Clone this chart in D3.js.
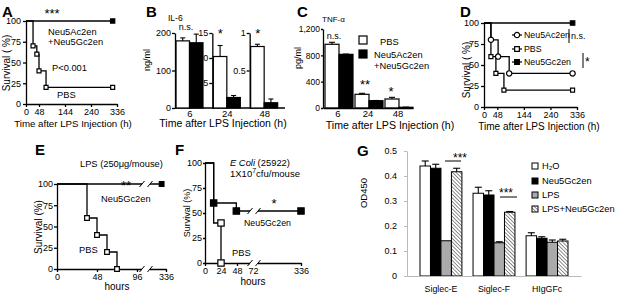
<!DOCTYPE html>
<html>
<head>
<meta charset="utf-8">
<script src="https://cdn.jsdelivr.net/npm/d3@7"></script>
<style>
body { margin: 0; background: #fff; }
svg { display: block; }
</style>
</head>
<body>
<svg id="fig" width="617" height="296"></svg>
<script>
// ---------- data ----------
const survYTicks = [0, 25, 50, 75, 100];
const survXTicks = [0, 48, 144, 240, 336];

// A: [hour, survival %, marker]
const pbsA = [[0, 100, 0], [26, 70, 1], [40, 60, 1], [48, 40, 1], [74, 20, 1], [320, 20, 1]];
const comboA = [[0, 100, 0], [320, 100, 1]];

// B: IL-6 (ng/ml), three sub axes
const cytoTimes = ["6", "24", "48"];
const il6Pbs = [179, 10.3, 0.82];
const il6PbsErr = [8, 2.2, 0.03];
const il6Treat = [174, 2.1, 0.07];
const il6TreatErr = [23, 0.4, 0.05];
const il6Max = [200, 15, 1];
const il6Ticks = [[0, 100, 200], [5, 10, 15], [0.5, 1]];
const il6Sig = ["n.s.", "*", "*"];

// C: TNF-a (pg/ml)
const tnfPbs = [968, 208, 137];
const tnfPbsErr = [30, 15, 25];
const tnfTreat = [815, 111, 11];
const tnfTreatErr = [4, 3, 2];
const tnfTicks = [0, 400, 800, 1200];
const tnfSig = ["n.s.", "**", "*"];

// D
const ac2enD = [[0, 100, 0], [25, 80, 1], [51, 60, 1], [91, 40, 1], [320, 40, 1]];
const pbsD = [[0, 100, 0], [25, 60, 1], [43, 40, 1], [72, 20, 1], [320, 20, 1]];
const gc2enD = [[0, 100, 0], [320, 100, 1]];

// E
const ticksE = [0, 48, 96, 336];
const pbsE = [[0, 100, 0], [36, 60, 1], [48, 40, 1], [60, 20, 1], [72, 0, 1]];
const gc2enE = [[0, 100, 0], [300, 100, 1]];

// F
const ticksF = [0, 24, 48, 72, 336];
const pbsF = [[0, 100, 0], [13, 40, 0], [24, 40, 1], [24, 0, 1]];
const gc2enF = [[0, 100, 0], [13, 60, 1], [47, 52, 1], [336, 52, 1]];

// G
const gGroups = ["Siglec-E", "Siglec-F", "HIgGFc"];
const gSeries = ["H\u2082O", "Neu5Gc2en", "LPS", "LPS+Neu5Gc2en"];
const gMeans = [[0.44, 0.431, 0.141, 0.417], [0.331, 0.324, 0.133, 0.255], [0.161, 0.151, 0.135, 0.14]];
const gErrs = [[0.02, 0.016, 0, 0.014], [0.024, 0.017, 0.004, 0.003], [0.012, 0.006, 0.009, 0.007]];
const gTicks = [0, 0.1, 0.2, 0.3, 0.4, 0.5];

// ---------- helpers ----------
const FONT = 'Arial, "Liberation Sans", sans-serif';
const svg = d3.select("#fig");
svg.append("rect").attr("width", 617).attr("height", 296).attr("fill", "#fff");

const defs = svg.append("defs");
defs.append("pattern").attr("id", "hatch").attr("patternUnits", "userSpaceOnUse")
	.attr("width", 2.6).attr("height", 2.6).attr("patternTransform", "rotate(-45)")
	.call(p => {
		p.append("rect").attr("width", 2.6).attr("height", 2.6).attr("fill", "#fff");
		p.append("line").attr("x1", 0).attr("y1", 0).attr("x2", 0).attr("y2", 2.6)
			.attr("stroke", "#333").attr("stroke-width", 1.1);
	});

function label(x, y, s, o = {}) {
	const t = svg.append("text").attr("x", x).attr("y", y)
		.attr("font-family", FONT).attr("font-size", o.fs || 10)
		.attr("text-anchor", o.anchor || "start").attr("fill", "#000")
		.text(s);
	if (o.bold) t.attr("font-weight", "bold");
	if (o.italic) t.attr("font-style", "italic");
	if (o.rot) t.attr("transform", `rotate(-90,${x},${y})`).attr("text-anchor", "middle");
	return t;
}

function drawAxis(gen, tx, ty, o = {}) {
	const g = svg.append("g").attr("transform", `translate(${tx},${ty})`).call(gen);
	g.attr("font-family", FONT).attr("font-size", o.fs || 9);
	g.select(".domain").attr("stroke", o.color || "#000").attr("stroke-width", o.sw || 1.3);
	g.selectAll(".tick line").attr("stroke", o.color || "#000").attr("stroke-width", o.sw || 1.3);
	g.selectAll(".tick text").attr("fill", "#000");
	return g;
}

function survCurve(x, y, pts, shape, fill, size) {
	svg.append("path")
		.attr("d", d3.line().x(d => x(d[0])).y(d => y(d[1])).curve(d3.curveStepAfter)(pts))
		.attr("fill", "none").attr("stroke", "#000").attr("stroke-width", 1.3);
	const sym = d3.symbol().type(shape === "circle" ? d3.symbolCircle : d3.symbolSquare).size(size);
	svg.append("g").selectAll("path").data(pts.filter(d => d[2])).join("path")
		.attr("transform", d => `translate(${x(d[0])},${y(d[1])})`)
		.attr("d", sym).attr("fill", fill).attr("stroke", "#000").attr("stroke-width", 1.2);
}

function axisBreak(x1, x2, y) {
	svg.append("rect").attr("x", x1).attr("y", y - 4).attr("width", x2 - x1).attr("height", 8).attr("fill", "#fff");
	[x1, x2].forEach(x => {
		svg.append("line").attr("x1", x - 2.5).attr("y1", y + 3).attr("x2", x + 2.5).attr("y2", y - 3)
			.attr("stroke", "#000").attr("stroke-width", 1);
	});
}

function errBar(x, yTop, yEnd, w) {
	svg.append("line").attr("x1", x).attr("x2", x).attr("y1", yTop).attr("y2", yEnd)
		.attr("stroke", "#000").attr("stroke-width", 1.1);
	svg.append("line").attr("x1", x - w / 2).attr("x2", x + w / 2).attr("y1", yEnd).attr("y2", yEnd)
		.attr("stroke", "#000").attr("stroke-width", 1.1);
}

// ---------- panel letters ----------
[["A", 2, 17], ["B", 146, 17], ["C", 297, 17], ["D", 460, 17], ["E", 35, 155], ["F", 175, 155], ["G", 357, 156]]
	.forEach(d => label(d[1], d[2], d[0], { fs: 15, bold: true }));

// ---------- A ----------
const xA = d3.scaleLinear().domain([0, 336]).range([26, 117]);
const yA = d3.scaleLinear().domain([0, 100]).range([104, 21]);
drawAxis(d3.axisLeft(yA).tickValues(survYTicks).tickSize(3).tickSizeOuter(0).tickPadding(2), 26, 0);
drawAxis(d3.axisBottom(xA).tickValues(survXTicks).tickSize(3).tickSizeOuter(0).tickPadding(2), 0, 104);
survCurve(xA, yA, pbsA, "square", "#fff", 16);
survCurve(xA, yA, comboA, "square", "#000", 18);
label(10, 63, "Survival ( %)", { rot: true, fs: 10 });
label(73, 126.5, "Time after LPS Injection (h)", { anchor: "middle", fs: 9.7 });
label(52, 18, "***", { fs: 13, anchor: "middle" });
label(48, 35, "Neu5Ac2en", { fs: 9.3 });
label(48, 45, "+Neu5Gc2en", { fs: 9.3 });
label(52, 71, "P<0.001", { fs: 9.3 });
label(57, 98, "PBS", { fs: 9.3 });

// ---------- B ----------
const xB = d3.scaleBand().domain(cytoTimes).range([175, 287]);
const xBi = d3.scaleBand().domain(["pbs", "treat"]).range([1, 28]);
svg.append("line").attr("x1", 175).attr("x2", 285).attr("y1", 108).attr("y2", 108)
	.attr("stroke", "#000").attr("stroke-width", 1.3);
cytoTimes.forEach((t, i) => {
	const y = d3.scaleLinear().domain([0, il6Max[i]]).range([108, 33]);
	const x0 = xB(t);
	const bw = xBi.bandwidth();
	[[il6Pbs, il6PbsErr, "pbs", "#fff"], [il6Treat, il6TreatErr, "treat", "#000"]].forEach(([m, e, k, c]) => {
		const bx = x0 + xBi(k);
		svg.append("rect").attr("x", bx).attr("y", y(m[i])).attr("width", bw).attr("height", 108 - y(m[i]))
			.attr("fill", c).attr("stroke", "#000").attr("stroke-width", 1.2);
		errBar(bx + bw / 2, y(m[i]), y(m[i] + e[i]), 5);
	});
	drawAxis(d3.axisLeft(y).tickValues(il6Ticks[i]).tickSize(3).tickSizeOuter(0).tickPadding(1)
		.tickFormat(d3.format("~g")), x0, 0);
	label(x0 + 15, 116.5, t, { anchor: "middle", fs: 9.5 });
	if (i === 0) label(x0 + 11, 29.5, il6Sig[i], { fs: 9, anchor: "middle" });
	else label(x0 + 8, 38, il6Sig[i], { fs: 13, anchor: "middle" });
});
label(168, 21, "IL-6", { fs: 8.5 });
label(150, 60, "ng/ml", { rot: true, fs: 9 });
label(223, 127, "Time after LPS Injection (h)", { anchor: "middle", fs: 10.5 });

// ---------- C ----------
const xC = d3.scaleBand().domain(cytoTimes).range([323, 413]);
const xCi = d3.scaleBand().domain(["pbs", "treat"]).range([2, 30]);
const yC = d3.scaleLinear().domain([0, 1200]).range([108, 29]);
cytoTimes.forEach((t, i) => {
	const bw = xCi.bandwidth();
	[[tnfPbs, tnfPbsErr, "pbs", "#fff"], [tnfTreat, tnfTreatErr, "treat", "#000"]].forEach(([m, e, k, c]) => {
		const bx = xC(t) + xCi(k);
		svg.append("rect").attr("x", bx).attr("y", yC(m[i])).attr("width", bw).attr("height", 108 - yC(m[i]))
			.attr("fill", c).attr("stroke", "#000").attr("stroke-width", 1.2);
		errBar(bx + bw / 2, yC(m[i]), yC(m[i] + e[i]), 6);
	});
});
drawAxis(d3.axisLeft(yC).tickValues(tnfTicks).tickSize(2).tickSizeOuter(0).tickPadding(1), 323, 0, { fs: 8.5 });
drawAxis(d3.axisBottom(xC).tickSize(0).tickSizeOuter(0).tickPadding(2), 0, 108, { fs: 9.5 });
label(334, 39, tnfSig[0], { fs: 9, anchor: "middle" });
label(365, 89, tnfSig[1], { fs: 13, anchor: "middle" });
label(391, 96, tnfSig[2], { fs: 13, anchor: "middle" });
label(322, 22, "TNF-\u03b1", { fs: 8 });
label(301, 58, "pg/ml", { rot: true, fs: 9 });
label(390, 128.5, "Time after LPS Injection (h)", { anchor: "middle", fs: 10.6 });
svg.append("rect").attr("x", 359).attr("y", 36).attr("width", 8).attr("height", 8).attr("fill", "#fff").attr("stroke", "#000").attr("stroke-width", 1.2);
svg.append("rect").attr("x", 359).attr("y", 50).attr("width", 8).attr("height", 8).attr("fill", "#000").attr("stroke", "#000").attr("stroke-width", 1.2);
label(380, 45, "PBS", { fs: 9.3 });
label(374, 58, "Neu5Ac2en", { fs: 9.3 });
label(374, 69, "+Neu5Gc2en", { fs: 9.3 });

// ---------- D ----------
const xD = d3.scaleLinear().domain([0, 336]).range([484, 577]);
const yD = d3.scaleLinear().domain([0, 100]).range([107, 23]);
drawAxis(d3.axisLeft(yD).tickValues(survYTicks).tickSize(3).tickSizeOuter(0).tickPadding(2), 484, 0);
drawAxis(d3.axisBottom(xD).tickValues(survXTicks).tickSize(3).tickSizeOuter(0).tickPadding(2), 0, 107);
survCurve(xD, yD, pbsD, "square", "#fff", 16);
survCurve(xD, yD, ac2enD, "circle", "#fff", 22);
survCurve(xD, yD, gc2enD, "square", "#000", 20);
label(470, 70, "Survival ( %)", { rot: true, fs: 10 });
label(539, 130, "Time after LPS Injection (h)", { anchor: "middle" });
[["circle", "#fff", "Neu5Ac2en", 35], ["square", "#fff", "PBS", 49], ["square", "#000", "Neu5Gc2en", 62]].forEach(d => {
	svg.append("line").attr("x1", 512).attr("x2", 522).attr("y1", d[3]).attr("y2", d[3]).attr("stroke", "#000").attr("stroke-width", 1.2);
	svg.append("path").attr("transform", `translate(517,${d[3]})`)
		.attr("d", d3.symbol().type(d[0] === "circle" ? d3.symbolCircle : d3.symbolSquare).size(22))
		.attr("fill", d[1]).attr("stroke", "#000").attr("stroke-width", 1.2);
	label(524, d[3] + 3.2, d[2], { fs: 8.8 });
});
svg.append("line").attr("x1", 569).attr("x2", 569).attr("y1", 29).attr("y2", 43).attr("stroke", "#000");
label(571, 39, "n.s.", { fs: 9 });
svg.append("line").attr("x1", 583).attr("x2", 583).attr("y1", 53).attr("y2", 68).attr("stroke", "#000");
label(585, 66, "*", { fs: 12 });

// ---------- E ----------
const xE = d3.scaleLinear().domain([0, 96, 336]).range([57, 137, 166]);
const yE = d3.scaleLinear().domain([0, 100]).range([269, 184]);
drawAxis(d3.axisLeft(yE).tickValues(survYTicks).tickSize(3).tickSizeOuter(0).tickPadding(1), 57, 0);
drawAxis(d3.axisBottom(xE).tickValues(ticksE).tickSize(3).tickSizeOuter(0).tickPadding(2), 0, 269);
survCurve(xE, yE, pbsE, "square", "#fff", 22);
survCurve(xE, yE, gc2enE, "square", "#000", 22);
axisBreak(142, 150, 269);
axisBreak(142, 150, 184);
label(42, 227, "Survival (%)", { rot: true, fs: 10 });
label(117, 290, "hours", { anchor: "middle" });
label(80, 167, "LPS (250\u03bcg/mouse)", { fs: 9.3 });
label(126, 190, "**", { fs: 13, anchor: "middle" });
label(101, 202, "Neu5Gc2en", { fs: 9.3 });
label(79, 253, "PBS", { fs: 9.3 });

// ---------- F ----------
const xF = d3.scaleLinear().domain([0, 72, 336]).range([205, 253, 301]);
const yF = d3.scaleLinear().domain([0, 100]).range([263, 163]);
drawAxis(d3.axisLeft(yF).tickValues(survYTicks).tickSize(2).tickSizeOuter(0).tickPadding(1), 205, 0);
drawAxis(d3.axisBottom(xF).tickValues(ticksF).tickSize(3).tickSizeOuter(0).tickPadding(2), 0, 263);
survCurve(xF, yF, pbsF, "square", "#fff", 40);
survCurve(xF, yF, gc2enF, "square", "#000", 40);
axisBreak(250, 258, 263);
axisBreak(250, 258, yF(52));
label(190, 213, "Survival (%)", { rot: true, fs: 9 });
label(253, 285, "hours", { anchor: "middle" });
label(230, 166, "E Coli", { italic: true, fs: 9.4 }).append("tspan").attr("font-style", "normal").text(" (25922)");
const cfu = label(230, 177, "1X10", { fs: 9.5 });
cfu.append("tspan").attr("font-size", 7).attr("dy", -4).text("7");
cfu.append("tspan").attr("dy", 4).text("cfu/mouse");
label(274, 208, "*", { fs: 13, anchor: "middle" });
label(244, 226, "Neu5Gc2en", { fs: 8.8 });
label(232, 256, "PBS", { fs: 9.3 });

// ---------- G ----------
const xG = d3.scaleBand().domain(gGroups).range([407, 581]).paddingInner(0.21).paddingOuter(0.245);
const xGi = d3.scaleBand().domain(gSeries).range([0, xG.bandwidth()]);
const yG = d3.scaleLinear().domain([0, 0.5]).range([276, 151]);
const gFill = ["#fff", "#000", "#aaa", "url(#hatch)"];
gGroups.forEach((grp, i) => {
	gSeries.forEach((s, j) => {
		const bx = xG(grp) + xGi(s);
		const bw = xGi.bandwidth();
		svg.append("rect").attr("x", bx).attr("y", yG(gMeans[i][j])).attr("width", bw)
			.attr("height", 276 - yG(gMeans[i][j])).attr("fill", gFill[j])
			.attr("stroke", "#000").attr("stroke-width", 1);
		if (gErrs[i][j] > 0) errBar(bx + bw / 2, yG(gMeans[i][j]), yG(gMeans[i][j] + gErrs[i][j]), 7);
	});
});
drawAxis(d3.axisLeft(yG).tickValues(gTicks).tickSize(3).tickSizeOuter(0).tickPadding(7)
	.tickFormat(d3.format("~g")), 407, 0, { color: "#bbb", sw: 1, fs: 9 });
drawAxis(d3.axisBottom(xG).tickSize(0).tickSizeOuter(0).tickPadding(10), 0, 276, { color: "#bbb", sw: 1, fs: 8.8 });
label(367, 193, "OD450", { rot: true, fs: 9.5 });
svg.append("line").attr("x1", 445).attr("x2", 461).attr("y1", 161).attr("y2", 161).attr("stroke", "#000");
label(460, 162, "***", { fs: 12, anchor: "middle" });
svg.append("line").attr("x1", 500).attr("x2", 517).attr("y1", 197).attr("y2", 197).attr("stroke", "#000");
label(506, 197, "***", { fs: 12, anchor: "middle" });
gSeries.forEach((s, j) => {
	const y = [163, 178, 192, 206][j];
	svg.append("rect").attr("x", 532).attr("y", y).attr("width", 6).attr("height", 6)
		.attr("fill", gFill[j]).attr("stroke", "#000").attr("stroke-width", 1);
	label(542, y + 6, s, { fs: 9.3 });
});
</script>
</body>
</html>
